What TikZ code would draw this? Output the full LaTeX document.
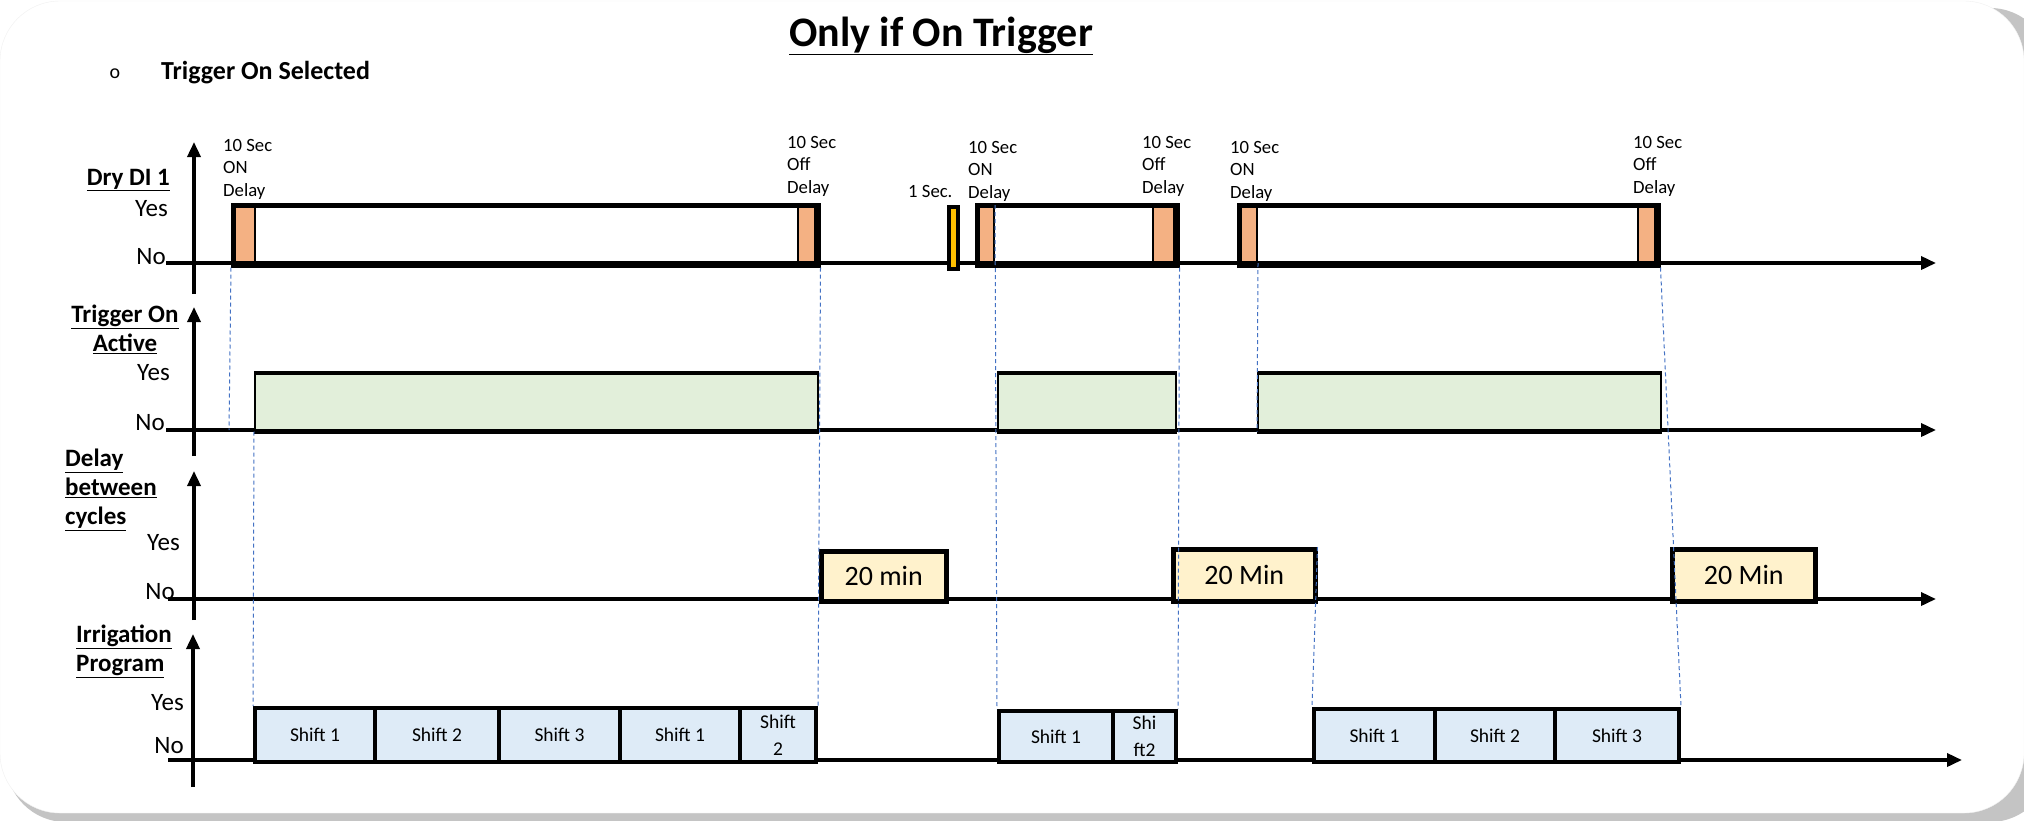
\documentclass[tikz,border=0pt]{standalone}
\usepackage{fontspec}
\setmainfont{Carlito}
\usepackage{tikz}
\usetikzlibrary{arrows.meta}
\usepackage{xcolor}
\definecolor{tdorange}{HTML}{F4B183}
\definecolor{tdamber}{HTML}{FFC000}
\definecolor{tdgreen}{HTML}{E2EFDA}
\definecolor{tdyellow}{HTML}{FFF2CC}
\definecolor{tdblue}{HTML}{DEEBF7}
\definecolor{tdguide}{HTML}{4472C4}
\definecolor{tdshade}{HTML}{C4C4C4}

\begin{document}
\begin{tikzpicture}[x=1pt, y=-1pt,
    axis/.style={line width=3.5pt, -{Triangle[length=15pt, width=13pt]}},
    guide/.style={tdguide, line width=1pt, dash pattern=on 4pt off 3pt},
    lbl/.style={font=\fontsize{25}{29}\selectfont\bfseries, inner sep=0},
    yn/.style={font=\fontsize{25}{29}\selectfont, inner sep=0, anchor=east},
    note/.style={font=\fontsize{18.7}{22.5}\selectfont, align=left, inner sep=0, anchor=north west},
    pulse/.style={draw, line width=4.5pt, inner sep=0, anchor=north west, minimum height=60pt},
    ondelay/.style={draw, fill=tdorange, line width=2pt, inner sep=0, anchor=north west, minimum height=56pt},
    trig/.style={draw, fill=tdgreen, line width=1.5pt, inner sep=0, anchor=north west, minimum height=57pt},
    cyc/.style={draw, fill=tdyellow, line width=4.5pt, inner sep=0, anchor=north west, font=\fontsize{28}{32}\selectfont},
    cell/.style={draw, fill=tdblue, line width=4pt, inner sep=0, anchor=north west, align=center, font=\fontsize{19.5}{27}\selectfont}]
  \useasboundingbox (0,0) rectangle (2024,820);
  \fill[white] (0,0) rectangle (2024,820);
  \fill[tdshade, rounded corners=60pt] (6,8) rectangle (2050,822);
  \fill[white, draw=gray!12, rounded corners=60pt] (0,1) rectangle (2024,813);

  \node[font=\fontsize{42}{50}\selectfont\bfseries, inner sep=0] (title) at (941,36) {\underline{Only if On Trigger}};
  \node[font=\fontsize{20}{24}\selectfont, inner sep=0] (bullet) at (115,74) {o};
  \node[font=\fontsize{26}{30}\selectfont\bfseries, inner sep=0, anchor=west] (sel) at (161,73) {Trigger On Selected};

  \node[lbl, anchor=east] (dryLbl) at (170,180) {\underline{Dry DI 1}};
  \node[yn] (dryYes) at (168,209) {Yes};
  \node[yn] (dryNo) at (166,257) {No};
  \node[lbl, align=center] (trgLbl) at (125,329) {\underline{Trigger On}\\\underline{Active}};
  \node[yn] (trgYes) at (170,373) {Yes};
  \node[yn] (trgNo) at (165,423) {No};
  \node[lbl, align=left, anchor=west] (cycLbl) at (65,490) {\underline{Delay}\\\underline{between}\\\underline{cycles}};
  \node[yn] (cycYes) at (180,543) {Yes};
  \node[yn] (cycNo) at (175,592) {No};
  \node[lbl, align=left, anchor=west] (irrLbl) at (76,651) {\underline{Irrigation}\\\underline{Program}};
  \node[yn] (irrYes) at (184,703) {Yes};
  \node[yn] (irrNo) at (184,746) {No};

  \foreach \n/\xv/\yb/\yt/\yh/\xs/\xe in {1/194/294/142/263/166/1936, 2/194/456/307/430/166/1936,
      3/194/620/471/599/168/1936, 4/193/787/634/760/168/1962} {
    \coordinate (vb\n) at (\xv,\yb);
    \coordinate (vt\n) at (\xv,\yt);
    \coordinate (hs\n) at (\xs,\yh);
    \coordinate (he\n) at (\xe,\yh);
    \draw[axis] (vb\n) -- (vt\n);
    \draw[axis] (hs\n) -- (he\n);
  }

  \node[ondelay, minimum width=21pt] (oA1) at (233,205) {};
  \node[ondelay, minimum width=17pt] (oA2) at (797,205) {};
  \node[ondelay, minimum width=16pt] (oB1) at (977,205) {};
  \node[ondelay, minimum width=21pt] (oB2) at (1152,205) {};
  \node[ondelay, minimum width=17pt] (oC1) at (1239,205) {};
  \node[ondelay, minimum width=17pt] (oC2) at (1637,205) {};
  \node[pulse, minimum width=585pt] (dA) at (231,203) {};
  \node[pulse, minimum width=200pt] (dB) at (975,203) {};
  \node[pulse, minimum width=419pt] (dC) at (1237,203) {};
  \node[draw, fill=tdamber, line width=4pt, inner sep=0, anchor=north west,
        minimum width=9pt, minimum height=62pt] (sec) at (947,205) {};

  \node[note] (nA1) at (223,139) {10 Sec\\ON\\Delay};
  \node[note] (nA2) at (787,136) {10 Sec\\Off\\Delay};
  \node[note, anchor=west] (nS) at (908,191) {1 Sec.};
  \node[note] (nB1) at (968,141) {10 Sec\\ON\\Delay};
  \node[note] (nB2) at (1142,136) {10 Sec\\Off\\Delay};
  \node[note] (nC1) at (1230,141) {10 Sec\\ON\\Delay};
  \node[note] (nC2) at (1633,136) {10 Sec\\Off\\Delay};

  \node[trig, minimum width=563pt] (tA) at (254,373) {};
  \node[trig, minimum width=178pt] (tB) at (997,373) {};
  \node[trig, minimum width=403pt] (tC) at (1257,373) {};
  \foreach \t in {tA,tB,tC}
    \draw[line width=4.5pt] (\t.north west) -- (\t.north east) (\t.south west) -- (\t.south east);

  \node[cyc, minimum width=125pt, minimum height=50pt] (m1) at (819,549) {20 min};
  \node[cyc, minimum width=142pt, minimum height=52pt] (m2) at (1171,547) {20 Min};
  \node[cyc, minimum width=143pt, minimum height=52pt] (m3) at (1670,547) {20 Min};

  \node[cell, minimum width=120pt, minimum height=54pt] (sA1) at (253,706) {Shift 1};
  \node[cell, minimum width=124pt, minimum height=54pt] (sA2) at (373,706) {Shift 2};
  \node[cell, minimum width=121pt, minimum height=54pt] (sA3) at (497,706) {Shift 3};
  \node[cell, minimum width=120pt, minimum height=54pt] (sA4) at (618,706) {Shift 1};
  \node[cell, minimum width=76pt, minimum height=54pt] (sA5) at (738,706) {Shift\\2};
  \node[cell, minimum width=114pt, minimum height=51pt] (sB1) at (997,709) {Shift 1};
  \node[cell, minimum width=63pt, minimum height=51pt] (sB2) at (1111,709) {Shi\\ft2};
  \node[cell, minimum width=121pt, minimum height=53pt] (sC1) at (1312,707) {Shift 1};
  \node[cell, minimum width=120pt, minimum height=53pt] (sC2) at (1433,707) {Shift 2};
  \node[cell, minimum width=124pt, minimum height=53pt] (sC3) at (1553,707) {Shift 3};

  \coordinate (g1) at (229,430);
  \draw[guide] (dA.south west) -- (g1);
  \draw[guide] (tA.south west) -- (sA1.north west);
  \draw[guide] (dA.south east) -- (sA5.north east);
  \draw[guide] (oB1.north east) -- (sB1.north west);
  \draw[guide] (dB.south east) -- (sB2.north east);
  \draw[guide] (oC1.south east) -- (tC.south west);
  \draw[guide] (dC.south east) -- (sC3.north east);
  \draw[guide] (m2.north east) -- (sC1.north west);
\end{tikzpicture}
\end{document}
